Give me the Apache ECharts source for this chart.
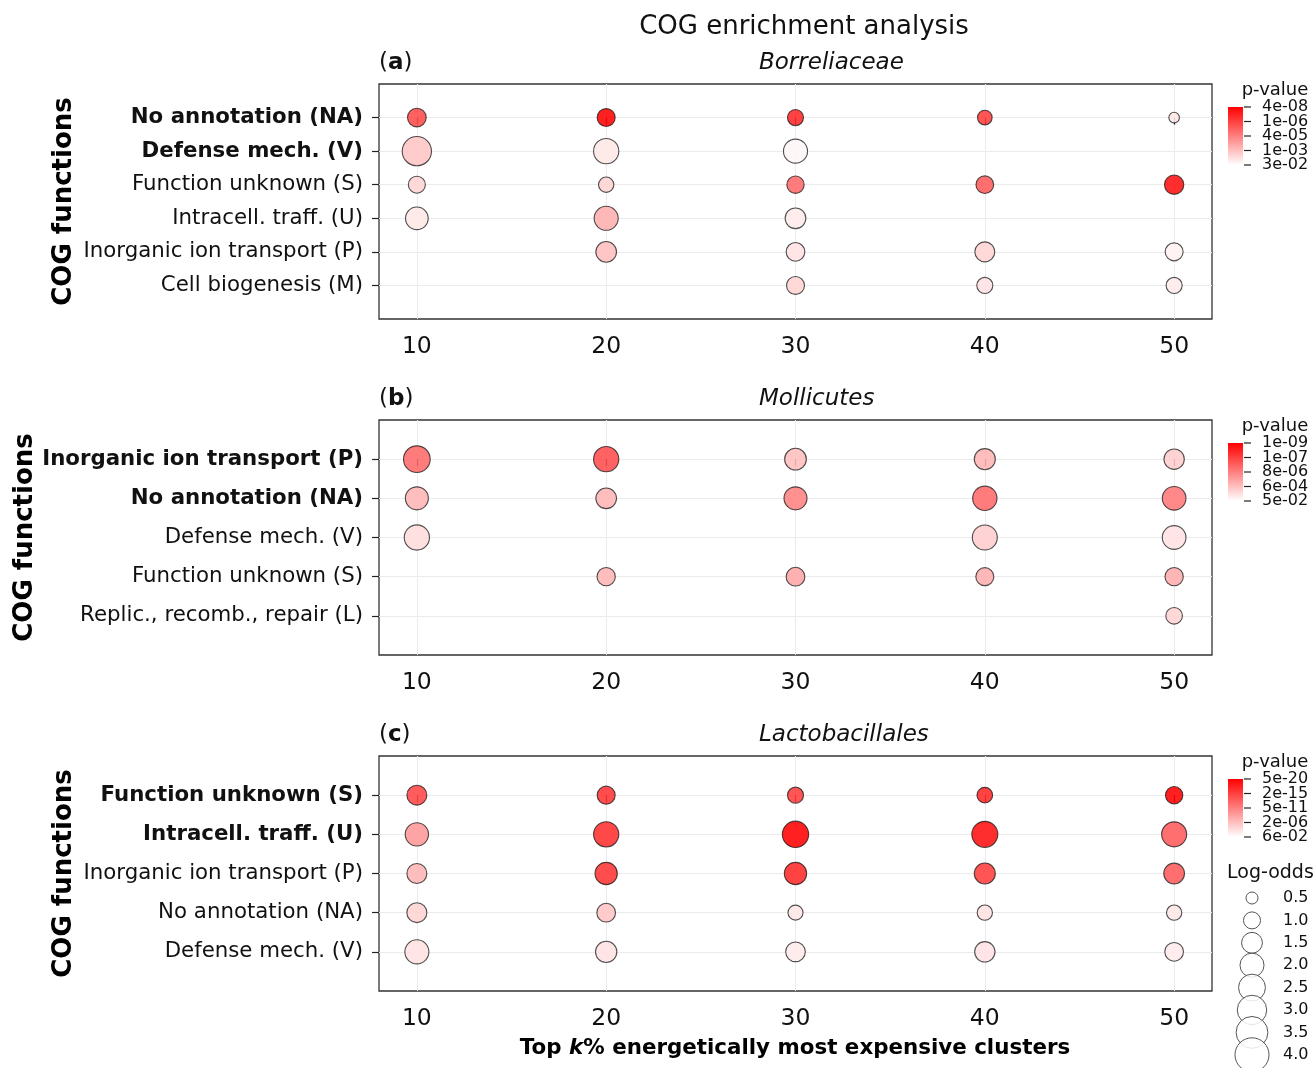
<!DOCTYPE html>
<html>
<head>
<meta charset="utf-8">
<script src="https://cdn.jsdelivr.net/npm/echarts@6/dist/echarts.min.js"></script>
<style>
  html, body { margin: 0; padding: 0; background: #ffffff; }
  #chart { width: 1316px; height: 1068px; }
</style>
</head>
<body>
<div id="chart"></div>
<script>
// Top k% of clusters (x axis)
const kPercent = [10, 20, 30, 40, 50];

// (a) Borreliaceae
const borrRows = ['No annotation (NA)', 'Defense mech. (V)', 'Function unknown (S)',
  'Intracell. traff. (U)', 'Inorganic ion transport (P)', 'Cell biogenesis (M)'];
const borrLogOdds = [
  [1.21, 1.12, 0.89, 0.74, 0.39],
  [2.97, 2.20, 2.00, null, null],
  [1.00, 0.81, 1.04, 1.08, 1.29],
  [1.78, 2.00, 1.48, null, null],
  [null, 1.48, 1.21, 1.38, 1.12],
  [null, null, 1.12, 0.89, 0.89]
];
const borrPValues = [
  [2e-6, 4e-8, 3e-7, 9.5e-7, 8.5e-3],
  [1.3e-3, 8.5e-3, 1.9e-2, null, null],
  [2.8e-3, 2.8e-3, 1e-5, 4.8e-6, 9e-8],
  [8.5e-3, 4e-4, 1e-2, null, null],
  [null, 9e-4, 6e-3, 2.8e-3, 1.4e-2],
  [null, null, 2.8e-3, 6e-3, 1e-2]
];
const borrScaleTicks = ['4e-08', '1e-06', '4e-05', '1e-03', '3e-02'];

// (b) Mollicutes
const molRows = ['Inorganic ion transport (P)', 'No annotation (NA)', 'Defense mech. (V)',
  'Function unknown (S)', 'Replic., recomb., repair (L)'];
const molLogOdds = [
  [2.46, 2.20, 1.63, 1.53, 1.43],
  [1.83, 1.48, 1.83, 2.05, 1.94],
  [2.20, null, null, 2.16, 1.94],
  [null, 1.16, 1.21, 1.12, 1.16],
  [null, null, null, null, 0.96]
];
const molPValues = [
  [1.5e-6, 1.8e-7, 5e-4, 2.8e-4, 1.4e-3],
  [2.8e-4, 2.8e-4, 8e-6, 1.5e-6, 4.3e-6],
  [4e-3, null, null, 1.4e-3, 6e-3],
  [null, 2.8e-4, 9.5e-5, 1.8e-4, 1.5e-4],
  [null, null, null, null, 2.2e-3]
];
const molScaleTicks = ['1e-09', '1e-07', '8e-06', '6e-04', '5e-02'];

// (c) Lactobacillales
const lacRows = ['Function unknown (S)', 'Intracell. traff. (U)', 'Inorganic ion transport (P)',
  'No annotation (NA)', 'Defense mech. (V)'];
const lacLogOdds = [
  [1.38, 1.12, 0.89, 0.85, 1.04],
  [1.88, 2.20, 2.40, 2.34, 2.16],
  [1.38, 1.72, 1.72, 1.53, 1.48],
  [1.38, 1.21, 0.78, 0.81, 0.81],
  [2.00, 1.57, 1.34, 1.43, 1.21]
];
const lacPValues = [
  [4e-15, 2e-16, 9e-16, 3e-17, 5e-20],
  [2e-9, 7.6e-17, 5e-20, 6e-19, 1.2e-13],
  [2.9e-7, 2e-16, 3e-17, 9e-16, 1.2e-13],
  [4e-5, 3.4e-6, 1.2e-3, 4.5e-4, 1.2e-3],
  [4.5e-4, 4.5e-4, 2e-3, 4.5e-4, 2e-3]
];
const lacScaleTicks = ['5e-20', '2e-15', '5e-11', '2e-06', '6e-02'];

// Size key
const sizeKeyValues = [0.5, 1.0, 1.5, 2.0, 2.5, 3.0, 3.5, 4.0];

// Text
const figureTitle = 'COG enrichment analysis';
const panelLetters = ['a', 'b', 'c'];
const taxonNames = ['Borreliaceae', 'Mollicutes', 'Lactobacillales'];
const yAxisTitle = 'COG functions';
const colorTitle = 'p-value';
const sizeTitle = 'Log-odds';

// ---- layout & style ----
const FONT = 'DejaVu Sans';
const INK = '#111111';
const PLOT_LEFT = 379, PLOT_W = 833, PLOT_H = 235;
const PANEL_TOPS = [84, 420, 756];
const YNAME_X = [64, 25, 64];
const BOLD_ROWS = 2;
const BAR_X = 1228, BAR_W = 15, BAR_H = 58, BAR_OFFSET = 23;
const sizeOf = lo => 17 * Math.sqrt(lo);

const panels = [
  { rows: borrRows, logOdds: borrLogOdds, pValues: borrPValues, ticks: borrScaleTicks },
  { rows: molRows, logOdds: molLogOdds, pValues: molPValues, ticks: molScaleTicks },
  { rows: lacRows, logOdds: lacLogOdds, pValues: lacPValues, ticks: lacScaleTicks }
];

const grid = [], xAxis = [], yAxis = [], series = [], visualMap = [], graphic = [];

panels.forEach((p, i) => {
  const top = PANEL_TOPS[i];
  const rowIdx = p.rows.map((_, j) => j);

  grid.push({
    left: PLOT_LEFT, top: top, width: PLOT_W, height: PLOT_H,
    show: true, borderColor: '#333333', borderWidth: 1.3
  });

  xAxis.push({
    type: 'value', gridIndex: i, min: 8, max: 52,
    axisLine: { show: false },
    axisTick: { show: true, customValues: kPercent, length: 7, lineStyle: { color: '#222', width: 1.2 } },
    axisLabel: { customValues: kPercent, fontSize: 23.5, fontFamily: FONT, color: INK, margin: 16 },
    splitLine: { show: true, lineStyle: { color: '#ebebeb', width: 1 } }
  });

  yAxis.push({
    type: 'value', gridIndex: i, min: -1, max: p.rows.length, interval: 1, inverse: true,
    axisLine: { show: false },
    axisTick: { show: true, customValues: rowIdx, length: 7, lineStyle: { color: '#222', width: 1.2 } },
    axisLabel: {
      customValues: rowIdx, margin: 16,
      formatter: v => (v < BOLD_ROWS ? '{b|' : '{r|') + p.rows[v] + '}',
      rich: {
        b: { fontSize: 21.3, fontWeight: 'bold', fontFamily: FONT, color: INK },
        r: { fontSize: 21.3, fontFamily: FONT, color: INK }
      }
    },
    splitLine: { show: true, lineStyle: { color: '#ebebeb', width: 1 } }
  });

  const data = [];
  p.logOdds.forEach((row, j) => {
    row.forEach((lo, c) => {
      if (lo == null) return;
      const pv = p.pValues[j][c];
      data.push([kPercent[c], j, lo, pv, -Math.log10(pv)]);
    });
  });

  series.push({
    type: 'scatter', xAxisIndex: i, yAxisIndex: i, data: data,
    symbol: 'circle',
    symbolSize: v => sizeOf(v[2]),
    itemStyle: { opacity: 0.87, borderColor: 'rgba(20,20,20,0.85)', borderWidth: 1.1 },
    emphasis: { disabled: true },
    silent: true
  });

  const lpLow = -Math.log10(parseFloat(p.ticks[p.ticks.length - 1]));
  const lpHigh = -Math.log10(parseFloat(p.ticks[0]));
  visualMap.push({
    type: 'continuous', show: false, seriesIndex: i, dimension: 4,
    min: lpLow, max: lpHigh,
    inRange: { color: ['#ffffff', '#ff0000'] }
  });

  // colour bar
  const barTop = top + BAR_OFFSET;
  graphic.push({
    type: 'rect', shape: { x: BAR_X, y: barTop, width: BAR_W, height: BAR_H },
    style: {
      fill: new echarts.graphic.LinearGradient(0, 0, 0, 1, [
        { offset: 0, color: '#ff0000' }, { offset: 1, color: '#ffffff' }
      ])
    }
  });
  p.ticks.forEach((t, k) => {
    const y = barTop + k * BAR_H / (p.ticks.length - 1);
    graphic.push({ type: 'line', shape: { x1: BAR_X + BAR_W + 1, y1: y, x2: BAR_X + BAR_W + 8, y2: y },
      style: { stroke: '#222', lineWidth: 1.2 } });
    graphic.push({ type: 'text', x: BAR_X + 34, y: y,
      style: { text: t, fontSize: 16, fontFamily: FONT, fill: INK,
        align: 'left', verticalAlign: 'middle', textAlign: 'left', textVerticalAlign: 'middle' } });
  });
  graphic.push({ type: 'text', x: 1275, y: barTop - 17,
    style: { text: colorTitle, fontSize: 18, fontFamily: FONT, fill: INK,
      align: 'center', verticalAlign: 'middle', textAlign: 'center', textVerticalAlign: 'middle' } });

  // panel letter and taxon
  graphic.push({ type: 'text', x: 379, y: top - 21,
    style: { text: '{n|(}{b|' + panelLetters[i] + '}{n|)}', align: 'left', verticalAlign: 'middle',
      textAlign: 'left', textVerticalAlign: 'middle',
      rich: {
        n: { fontSize: 23, fontFamily: FONT, fill: INK, color: INK },
        b: { fontSize: 23, fontFamily: FONT, fontWeight: 'bold', fill: INK, color: INK }
      } } });
  graphic.push({ type: 'text', x: 759, y: top - 21,
    style: { text: taxonNames[i], fontSize: 23, fontStyle: 'italic', fontFamily: FONT, fill: INK,
      align: 'left', verticalAlign: 'middle', textAlign: 'left', textVerticalAlign: 'middle' } });

  // y axis title
  graphic.push({ type: 'text', x: YNAME_X[i], y: top + PLOT_H / 2, rotation: Math.PI / 2,
    style: { text: yAxisTitle, fontSize: 26, fontWeight: 'bold', fontFamily: FONT, fill: '#000',
      align: 'center', verticalAlign: 'middle', textAlign: 'center', textVerticalAlign: 'middle' } });
});

// figure title
graphic.push({ type: 'text', x: 804, y: 27,
  style: { text: figureTitle, fontSize: 26, fontFamily: FONT, fill: INK,
    align: 'center', verticalAlign: 'middle', textAlign: 'center', textVerticalAlign: 'middle' } });

// x axis title
graphic.push({ type: 'text', x: 795, y: 1048,
  style: { text: '{b|Top }{i|k}{b|% energetically most expensive clusters}',
    align: 'center', verticalAlign: 'middle', textAlign: 'center', textVerticalAlign: 'middle',
    rich: {
      b: { fontSize: 21.4, fontWeight: 'bold', fontFamily: FONT, fill: '#000', color: '#000' },
      i: { fontSize: 21.4, fontWeight: 'bold', fontStyle: 'italic', fontFamily: FONT, fill: '#000', color: '#000' }
    } } });

// size key
graphic.push({ type: 'text', x: 1227, y: 873,
  style: { text: sizeTitle, fontSize: 19, fontFamily: FONT, fill: INK,
    align: 'left', verticalAlign: 'middle', textAlign: 'left', textVerticalAlign: 'middle' } });
sizeKeyValues.forEach((v, k) => {
  const cy = 898 + k * 22.4;
  graphic.push({ type: 'circle', shape: { cx: 1252, cy: cy, r: sizeOf(v) / 2 },
    style: { fill: 'rgba(255,255,255,0.85)', stroke: '#555', lineWidth: 1 } });
  graphic.push({ type: 'text', x: 1283, y: cy,
    style: { text: v.toFixed(1), fontSize: 16, fontFamily: FONT, fill: INK,
      align: 'left', verticalAlign: 'middle', textAlign: 'left', textVerticalAlign: 'middle' } });
});

const chart = echarts.init(document.getElementById('chart'), null, { renderer: 'canvas' });
chart.setOption({
  backgroundColor: '#ffffff',
  animation: false,
  textStyle: { fontFamily: FONT },
  grid: grid,
  xAxis: xAxis,
  yAxis: yAxis,
  visualMap: visualMap,
  series: series,
  graphic: { elements: graphic }
});
</script>
</body>
</html>
